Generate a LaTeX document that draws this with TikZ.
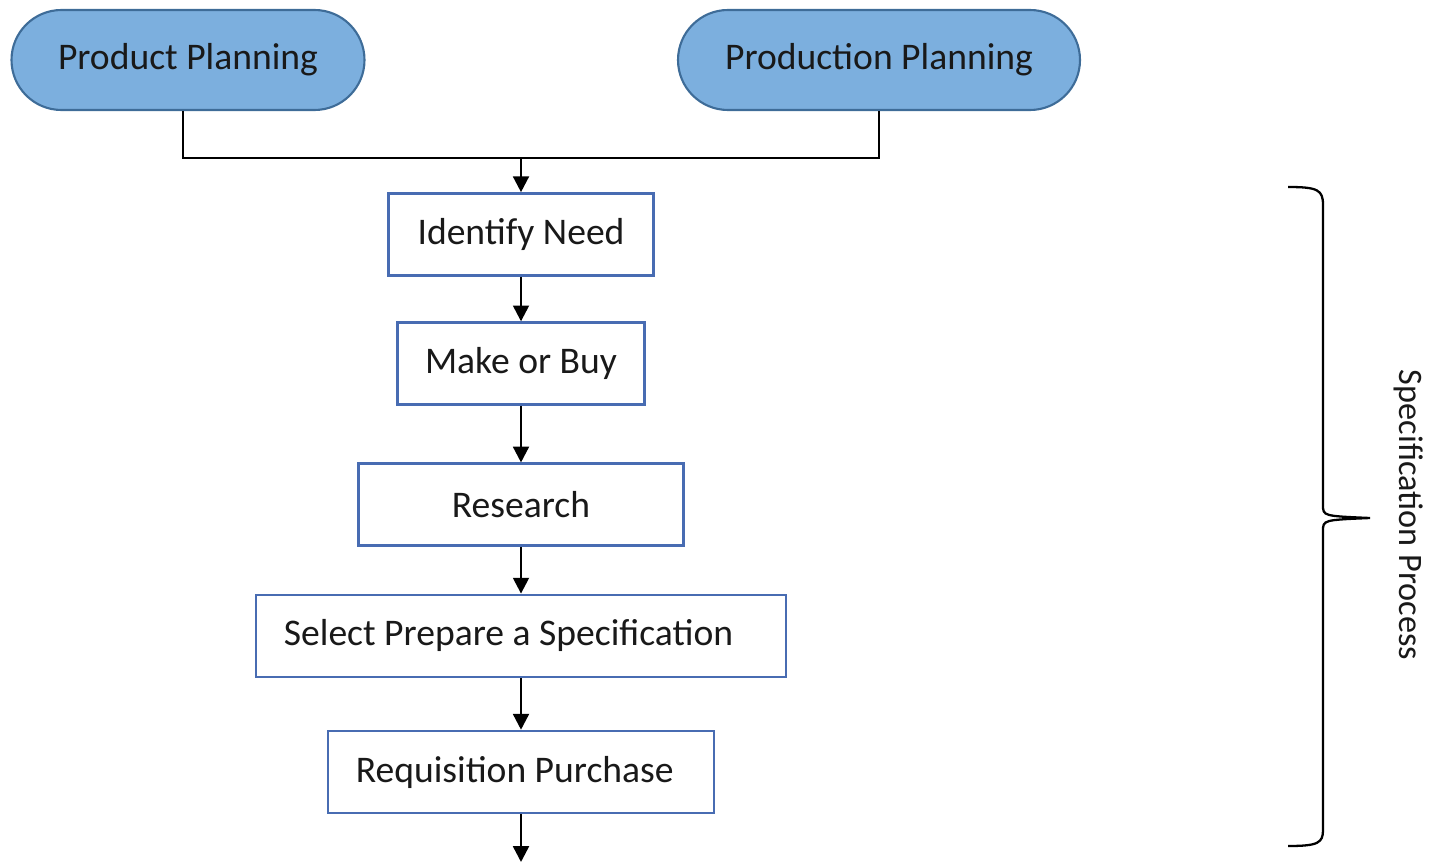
\documentclass[tikz,border=0pt]{standalone}
\usepackage{fontspec}
\setmainfont{Carlito}
\usetikzlibrary{arrows.meta,positioning}

\definecolor{planfill}{RGB}{124,175,222}
\definecolor{planedge}{RGB}{62,108,152}
\definecolor{boxedge}{RGB}{72,108,178}
\definecolor{txt}{RGB}{25,25,25}

\begin{document}
\begin{tikzpicture}[node distance=1cm, auto,
    plan/.style={rectangle, draw=planedge, fill=planfill, line width=1.2pt, rounded corners=1cm, minimum height=2cm, font=\fontsize{21.4}{24}\selectfont, text=txt},
    stepbox/.style={rectangle, draw=boxedge, fill=white, line width=1.5pt, minimum height=1.64cm, font=\fontsize{21.4}{24}\selectfont, text=txt},
    line/.style={draw, -{Triangle[length=9pt,width=9pt]}, line width=1.4pt},
    plain/.style={draw, line width=1.4pt}]
    \useasboundingbox (0,0) rectangle (28.58,-17.24);

    % Nodes
    \node [plan, minimum width=7.06cm] (prodplan) at (3.76,-1.2) {Product Planning};
    \node [plan, minimum width=8.04cm] (prodnplan) at (17.58,-1.2) {Production Planning};
    \node [stepbox, minimum width=5.3cm] (need) at (10.42,-4.69) {Identify Need};
    \node [stepbox, minimum width=4.94cm, below=0.89cm of need] (makebuy) {Make or Buy};
    \node [stepbox, minimum width=6.5cm, below=1.13cm of makebuy] (research) {Research};
    \node [stepbox, minimum width=10.6cm, below=0.93cm of research] (spec) {Select Prepare a Specification\hspace{0.5cm}\null};
    \node [stepbox, minimum width=7.72cm, below=1.03cm of spec] (req) {Requisition Purchase\hspace{0.25cm}\null};
    \coordinate (join) at (10.42,-3.16);
    \coordinate (out) at (10.42,-17.24);

    % Edges
    \path [plain] ([xshift=-0.1cm]prodplan.south) |- (join) -| (prodnplan.south);
    \path [line] (join) -- (need);
    \path [line] (need) -- (makebuy);
    \path [line] (makebuy) -- (research);
    \path [line] (research) -- (spec);
    \path [line] (spec) -- (req);
    \path [line] (req) -- (out);

    % Brace
    \draw [line width=1.3pt] (25.76,-3.74) .. controls (26.36,-3.74) and (26.46,-3.8) .. (26.46,-4.1)
      -- (26.46,-10.1) .. controls (26.46,-10.32) .. (27.4,-10.36)
      .. controls (26.46,-10.4) .. (26.46,-10.62) -- (26.46,-16.6)
      .. controls (26.46,-16.86) and (26.36,-16.92) .. (25.76,-16.92);
    \node [rotate=-90, font=\fontsize{19.5}{22}\selectfont, text=txt] (label) at (28.18,-10.3) {Specification Process};
  \end{tikzpicture}
\end{document}
